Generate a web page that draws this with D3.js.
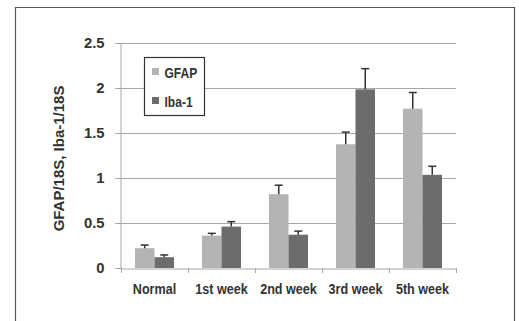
<!DOCTYPE html>
<html><head><meta charset="utf-8">
<script src="https://cdn.jsdelivr.net/npm/d3@7"></script>
<style>
html,body{margin:0;padding:0;background:#fff;}
svg text{font-family:"Liberation Sans",Arial,sans-serif;font-weight:bold;fill:#333;}
</style></head>
<body><svg id="c" width="519" height="321"></svg>
<script>
const categories = ["Normal","1st week","2nd week","3rd week","5th week"];
const seriesNames = ["GFAP","Iba-1"];
const gfap = [0.22,0.36,0.82,1.375,1.77];
const gfapErr = [0.035,0.025,0.10,0.135,0.18];
const iba = [0.12,0.46,0.37,1.985,1.035];
const ibaErr = [0.025,0.055,0.04,0.23,0.095];
const yTicks = [0,0.5,1,1.5,2,2.5];
const colors = ["#b4b4b4","#6c6c6c"];
const FONT = '"Liberation Sans",Arial,sans-serif';

const svg = d3.select("#c");
// frame
svg.append("path").attr("d","M15.5,321 V7.5 H514.5 V321").attr("fill","none").attr("stroke","#555").attr("stroke-width",1.2);

const x = d3.scaleBand().domain(categories).range([121,456]);
const y = d3.scaleLinear().domain([0,2.5]).range([268,43]);

// gridlines
svg.append("g").selectAll("line").data(yTicks.filter(d=>d>0)).join("line")
  .attr("x1",115).attr("x2",456).attr("y1",d=>Math.round(y(d))+0.5).attr("y2",d=>Math.round(y(d))+0.5)
  .attr("stroke","#a8a8a8").attr("stroke-width",1);

// y axis
const ya = svg.append("g").attr("transform","translate(120.5,0)")
  .call(d3.axisLeft(y).tickValues(yTicks).tickSize(5).tickPadding(11).tickFormat(d=>String(d)));
ya.select(".domain").attr("stroke","#a8a8a8");
ya.selectAll(".tick line").attr("stroke","#a8a8a8");
ya.selectAll("text").attr("font-size",14.8).attr("fill","#333").style("font-family",FONT);

// bars
const sub = d3.scaleBand().domain(seriesNames).range([0,39]);
const data = categories.map((c,i)=>({c, vals:[{s:"GFAP",v:gfap[i],e:gfapErr[i]},{s:"Iba-1",v:iba[i],e:ibaErr[i]}]}));
const grp = svg.append("g").selectAll("g").data(data).join("g")
  .attr("transform",d=>`translate(${x(d.c)+x.bandwidth()/2-19.5},0)`);
grp.selectAll("rect").data(d=>d.vals).join("rect")
  .attr("x",d=>sub(d.s)).attr("width",sub.bandwidth())
  .attr("y",d=>y(d.v)).attr("height",d=>y(0)-y(d.v))
  .attr("fill",(d,i)=>colors[i]);
// error bars
const eb = grp.selectAll("g.err").data(d=>d.vals).join("g").attr("class","err");
eb.append("line").attr("x1",d=>sub(d.s)+sub.bandwidth()/2).attr("x2",d=>sub(d.s)+sub.bandwidth()/2)
  .attr("y1",d=>y(d.v)).attr("y2",d=>y(d.v+d.e)).attr("stroke","#333").attr("stroke-width",1.5);
eb.append("line").attr("x1",d=>sub(d.s)+sub.bandwidth()/2-4).attr("x2",d=>sub(d.s)+sub.bandwidth()/2+4)
  .attr("y1",d=>y(d.v+d.e)).attr("y2",d=>y(d.v+d.e)).attr("stroke","#333").attr("stroke-width",1.5);

// x axis
const xa = svg.append("g").attr("transform",`translate(0,${Math.round(y(0))+0.5})`)
  .call(d3.axisBottom(x).tickSize(0).tickPadding(15));
xa.select(".domain").attr("stroke","#a8a8a8");
xa.selectAll("text").attr("font-size",15).attr("fill","#333").style("font-family",FONT)
  .attr("transform","scale(0.84,1)");
// category boundary ticks
const bounds = categories.map(c=>x(c)).concat([x.range()[1]]);
svg.append("g").selectAll("line").data(bounds).join("line")
  .attr("x1",d=>d+0.5).attr("x2",d=>d+0.5).attr("y1",268).attr("y2",273)
  .attr("stroke","#a8a8a8");

// y title
svg.append("text").attr("transform","translate(63.5,158.5) rotate(-90) scale(1,0.93)").attr("text-anchor","middle")
  .attr("font-size",15).text("GFAP/18S, Iba-1/18S");

// legend
const lg = svg.append("g");
lg.append("rect").attr("x",144.5).attr("y",57.5).attr("width",60).attr("height",58)
  .attr("fill","#fff").attr("stroke","#333").attr("stroke-width",1.2);
seriesNames.forEach((s,i)=>{
  lg.append("rect").attr("x",152).attr("y",68+i*29).attr("width",7).attr("height",7).attr("fill",colors[i]);
  lg.append("text").attr("transform",`translate(164.5,${78+i*29}) scale(0.86,1)`).attr("font-size",14).text(s);
});
</script></body></html>
